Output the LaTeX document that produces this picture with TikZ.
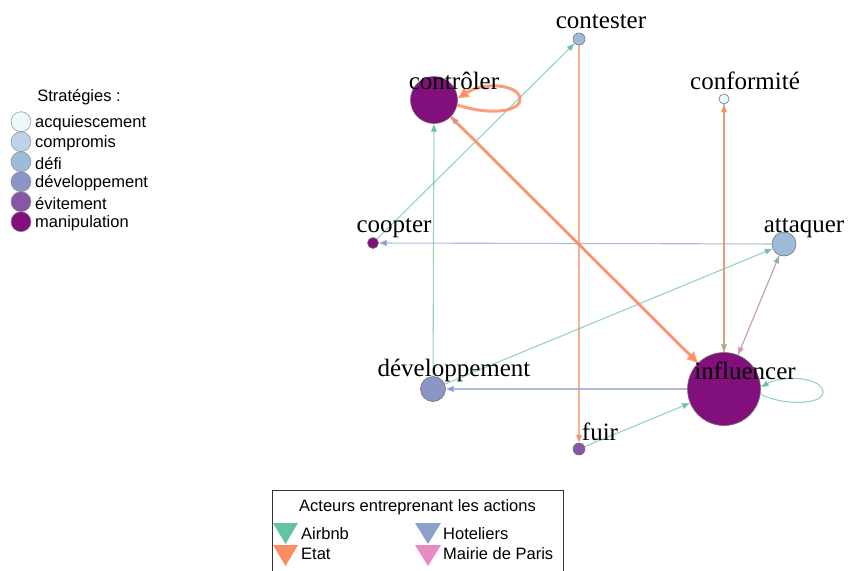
\documentclass[tikz,border=0pt]{standalone}
\usepackage{fontspec}
\setmainfont{Liberation Serif}
\newfontfamily\legendfont{Liberation Sans}
\usetikzlibrary{arrows.meta}

% actors (edges)
\definecolor{airbnb}{HTML}{66C2A5}
\definecolor{etat}{HTML}{FC8D62}
\definecolor{hoteliers}{HTML}{8DA0CB}
\definecolor{mairie}{HTML}{E78AC3}
% strategies (vertices)
\definecolor{acquiescement}{HTML}{EDF8FB}
\definecolor{compromis}{HTML}{BFD3E6}
\definecolor{defi}{HTML}{9EBCDA}
\definecolor{developpement}{HTML}{8C96C6}
\definecolor{evitement}{HTML}{8856A7}
\definecolor{manipulation}{HTML}{810F7C}

\begin{document}
\begin{tikzpicture}[x=1pt, y=-1pt,
		vertex/.style={circle, draw=black!55, line width=0.6pt, inner sep=0pt},
		lab/.style={anchor=base, inner sep=0pt, font=\fontsize{25}{30}\selectfont},
		edge/.style={line width=1.1pt, draw opacity=0.7, -{Triangle[length=8pt, width=6pt]}},
		leg/.style={anchor=west, inner sep=0pt, font=\legendfont\fontsize{16.5}{19}\selectfont},
		legdot/.style={circle, draw=black!45, line width=0.5pt, inner sep=0pt, minimum size=20pt}]
		\useasboundingbox (0,0) rectangle (848,570);
		\clip (0,0) rectangle (848,570);

		% Vertices
		\node[vertex, fill=defi, minimum size=12pt] (contester) at (579,39) {};
		\node[vertex, fill=manipulation, minimum size=47pt] (controler) at (434,100) {};
		\node[vertex, fill=acquiescement, minimum size=10pt] (conformite) at (724,99) {};
		\node[vertex, fill=manipulation, minimum size=11pt] (coopter) at (373,243) {};
		\node[vertex, fill=defi, minimum size=24pt] (attaquer) at (784,244) {};
		\node[vertex, fill=developpement, minimum size=25pt] (developpement) at (433,389) {};
		\node[vertex, fill=manipulation, minimum size=73pt] (influencer) at (724,389) {};
		\node[vertex, fill=evitement, minimum size=12pt] (fuir) at (579,449) {};

		% Edges
		\draw[edge, airbnb] (coopter) -- (contester);
		\draw[edge, etat] (contester) -- (fuir);
		\draw[edge, airbnb] (developpement) -- (controler);
		\draw[edge, airbnb] (developpement) -- (attaquer);
		\draw[edge, hoteliers] (attaquer) -- (coopter);
		\draw[edge, hoteliers] (influencer) -- (developpement);
		\draw[edge, airbnb] (fuir) -- (influencer);
		\draw[edge, airbnb] (conformite) -- (influencer);
		\draw[edge, etat] (influencer) -- (conformite);
		\draw[edge, airbnb] (influencer) -- (attaquer);
		\draw[edge, mairie] (attaquer) -- (influencer);
		\draw[edge, hoteliers] (influencer) -- (controler);
		\draw[edge, etat, line width=3pt, draw opacity=0.85, -{Triangle[length=11pt, width=10pt]}] (controler) -- (influencer);

		% Loops
		\draw[edge, etat, line width=3pt, draw opacity=0.85, -{Triangle[length=11pt, width=10pt]}] (controler.-12) .. controls (495,117) and (522,110) .. (520,98) .. controls (518,85) and (485,81) .. (controler.4);
		\draw[edge, airbnb] (influencer.-8) .. controls (780,405) and (823,406) .. (823,392) .. controls (823,378) and (785,374) .. (influencer.3);

		% Vertex labels
		\node[lab] (contester-l) at (601,28) {contester};
		\node[lab] (controler-l) at (454,89) {contrôler};
		\node[lab] (conformite-l) at (745,89) {conformité};
		\node[lab] (coopter-l) at (394,232) {coopter};
		\node[lab] (attaquer-l) at (804,232) {attaquer};
		\node[lab] (developpement-l) at (454,376) {développement};
		\node[lab] (influencer-l) at (745,379) {influencer};
		\node[lab] (fuir-l) at (600,440) {fuir};

		% Legend: strategies
		\node[leg, anchor=center] (strat-title) at (79,97) {Stratégies :};
		\foreach \s/\t [count=\i] in {acquiescement/acquiescement, compromis/compromis, defi/défi,
				developpement/développement, evitement/évitement, manipulation/manipulation} {
			\node[legdot, fill=\s] (dot-\i) at (21,{101.7+20*\i}) {};
			\node[leg] (txt-\i) at (35,{103.5+20*\i}) {\t};
		}

		% Legend: actors
		\draw[black!80, line width=0.8pt] (272,490) rectangle (563,580);
		\node[leg, anchor=center] (act-title) at (417.5,507) {Acteurs entreprenant les actions};
		\fill[airbnb] (273,523) -- (298,523) -- (285.5,544) -- cycle;
		\fill[etat] (273,545) -- (298,545) -- (285.5,566) -- cycle;
		\fill[hoteliers] (415,523) -- (441,523) -- (428,544) -- cycle;
		\fill[mairie] (415,545) -- (441,545) -- (428,566) -- cycle;
		\node[leg] (act-airbnb) at (301,534) {Airbnb};
		\node[leg] (act-etat) at (301,554) {Etat};
		\node[leg] (act-hoteliers) at (443,534) {Hoteliers};
		\node[leg] (act-mairie) at (443,554) {Mairie de Paris};
	\end{tikzpicture}
\end{document}
